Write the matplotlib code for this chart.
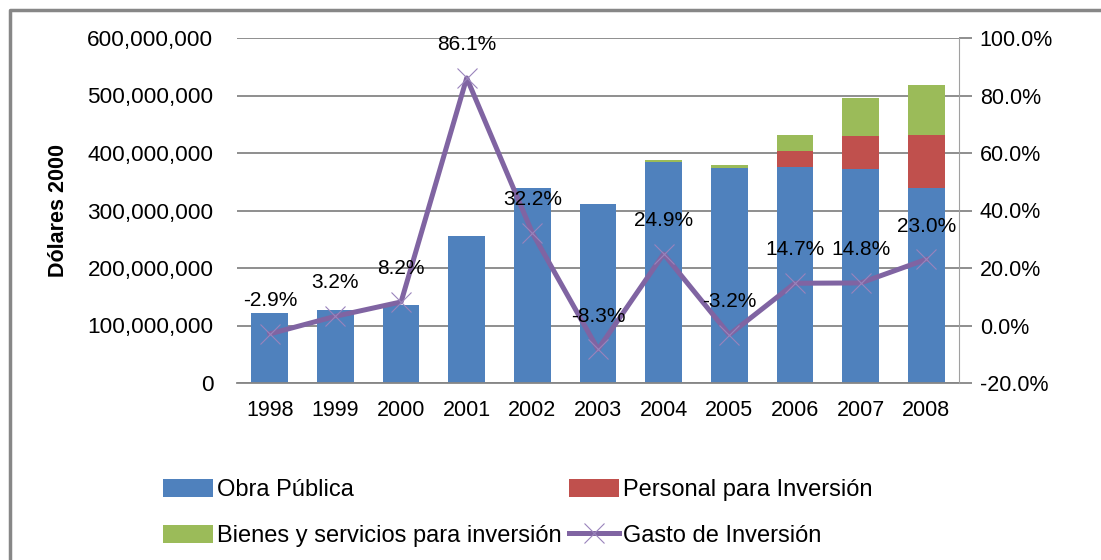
import matplotlib.pyplot as plt
from matplotlib.lines import Line2D
from matplotlib.ticker import FuncFormatter

years = ["1998", "1999", "2000", "2001", "2002", "2003", "2004", "2005", "2006", "2007", "2008"]
obra_publica = [122e6, 127e6, 136e6, 256e6, 340e6, 311e6, 384e6, 374e6, 375e6, 372e6, 340e6]
personal_inversion = [0, 0, 0, 0, 0, 0, 0, 0, 28e6, 58e6, 91e6]
bienes_servicios = [0, 0, 0, 0, 0, 0, 4e6, 5e6, 28e6, 66e6, 87e6]
gasto_inversion = [-2.9, 3.2, 8.2, 86.1, 32.2, -8.3, 24.9, -3.2, 14.7, 14.8, 23.0]

BLUE = "#4F81BD"
RED = "#C0504D"
GREEN = "#9BBB59"
PURPLE = "#8064A2"
GRID = "#868686"

plt.rcParams["font.family"] = ["Liberation Sans", "DejaVu Sans"]

fig = plt.figure(figsize=(11.01, 5.6), dpi=100)
# outer chart border (only top and left edges are visible in the crop)
fx, fy = 10 / 1101, 1 - 10 / 560
fig.lines.append(Line2D([fx, fx, 1.01], [-0.01, fy, fy], transform=fig.transFigure,
                        color="#878787", linewidth=2.5))

ax = fig.add_axes([237 / 1101, 1 - 383 / 560, (959 - 237) / 1101, (383 - 38) / 560])
x = list(range(len(years)))
w = 0.56

b1 = ax.bar(x, obra_publica, w, color=BLUE, zorder=2)
b2 = ax.bar(x, personal_inversion, w, bottom=obra_publica, color=RED, zorder=2)
bottom3 = [a + b for a, b in zip(obra_publica, personal_inversion)]
b3 = ax.bar(x, bienes_servicios, w, bottom=bottom3, color=GREEN, zorder=2)

ax.set_xlim(-0.5, len(years) - 0.5)
ax.set_ylim(0, 600e6)
ax.set_yticks([i * 100e6 for i in range(7)])
ax.yaxis.set_major_formatter(FuncFormatter(lambda v, p: f"{int(v):,}"))
ax.set_xticks(x)
ax.set_xticklabels(years)
ax.grid(axis="y", color=GRID, linewidth=1.3, zorder=0)
ax.set_axisbelow(True)
for s in ["left", "top", "right"]:
    ax.spines[s].set_visible(False)
ax.spines["bottom"].set_color(GRID)
ax.spines["bottom"].set_linewidth(1.3)
ax.tick_params(axis="y", length=0, pad=17, labelsize=16.2)
ax.tick_params(axis="x", length=0, pad=12, labelsize=15.5)
ax.set_ylabel("Dólares 2000", fontsize=15.5, fontweight="bold", labelpad=13)

ax2 = ax.twinx()
ax2.set_ylim(-20, 100)
ax2.set_yticks(range(-20, 101, 20))
ax2.yaxis.set_major_formatter(FuncFormatter(lambda v, p: f"{v:.1f}%"))
for s in ["left", "top", "bottom"]:
    ax2.spines[s].set_visible(False)
ax2.spines["right"].set_color("#A0A0A0")
ax2.spines["right"].set_linewidth(0.8)
ax2.tick_params(axis="y", length=9, width=1.3, color=GRID, pad=6, labelsize=15.5)

line, = ax2.plot(x, gasto_inversion, color=PURPLE, linewidth=3.6, marker="x",
                 markersize=14, markeredgewidth=0.8, markeredgecolor="#9A84BC", zorder=3)
for xi, v in zip(x, gasto_inversion):
    ax2.annotate(f"{v:.1f}%", (xi, v), xytext=(0, 24), textcoords="offset points",
                 ha="center", va="center", fontsize=15)

fig.legend([b1, b3, b2, line],
           ["Obra Pública", "Bienes y servicios para inversión",
            "Personal para Inversión", "Gasto de Inversión"],
           ncol=2, loc="upper left", bbox_to_anchor=(163 / 1101, 1 - 479 / 560),
           frameon=False, fontsize=17, handlelength=2.1, handleheight=0.8,
           handletextpad=0.2, columnspacing=0.3, labelspacing=1.0,
           borderaxespad=0, borderpad=0)

fig.savefig("out.png", dpi=100)
